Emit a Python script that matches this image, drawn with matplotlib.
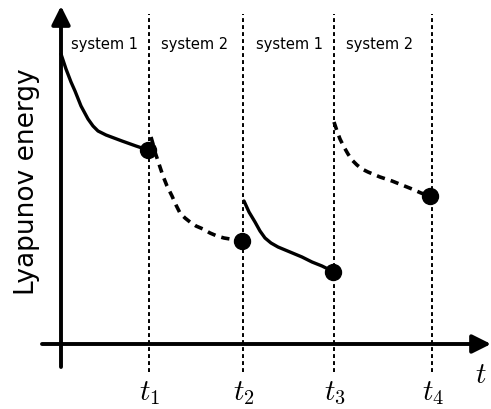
import matplotlib
matplotlib.use("Agg")
import matplotlib.pyplot as plt

plt.rcParams['mathtext.fontset'] = 'cm'
plt.rcParams['font.family'] = 'DejaVu Sans'

# switching instants
t_switch = [88, 182, 273, 371]
t_labels = [r'$t_1$', r'$t_2$', r'$t_3$', r'$t_4$']
regions = ['system 1', 'system 2', 'system 1', 'system 2']
region_mid = [44, 134, 229, 319]

# energy along each interval (solid = system 1, dashed = system 2)
seg1_t = [0, 5, 10, 14, 20, 27, 32, 37, 45, 53, 61, 75, 87]
seg1_v = [290, 275, 262, 253, 238, 225, 218, 213, 209, 206, 203, 198, 194]
seg2_t = [90, 92, 94, 98, 102, 106, 111, 115, 119, 124, 129, 135, 142,
          149, 156, 163, 169, 175, 181]
seg2_v = [207, 200, 192, 180, 168, 158, 148, 139, 131, 126, 122, 118, 115,
          111, 108, 106, 105, 104, 103]
seg3_t = [183, 188, 194, 199, 204, 210, 217, 229, 241, 251, 261, 267, 272]
seg3_v = [143, 132, 122, 113, 106, 101, 97, 92, 87, 82, 78, 75, 72]
seg4_t = [273, 276, 279, 283, 287, 291, 296, 301, 307, 319, 331, 341,
          351, 360, 369]
seg4_v = [222, 213, 205, 197, 190, 184, 179, 175, 172, 167, 163, 159,
          155, 151, 148]

fig = plt.figure(figsize=(4.91, 4.10), dpi=100)
ax = fig.add_axes([0, 0, 1, 1])
ax.set_xlim(-61, 430)
ax.set_ylim(-65, 345)
ax.axis('off')

# axes with arrow heads
ax.annotate('', xy=(430, 0), xytext=(-19, 0),
            arrowprops=dict(arrowstyle='-|>', lw=2.8, color='black',
                            mutation_scale=28, shrinkA=0, shrinkB=0))
ax.annotate('', xy=(0, 338), xytext=(0, -23),
            arrowprops=dict(arrowstyle='-|>', lw=2.8, color='black',
                            mutation_scale=28, shrinkA=0, shrinkB=0))

for ts, lab in zip(t_switch, t_labels):
    ax.plot([ts, ts], [-28, 330], color='black', lw=1.4,
            linestyle=(0, (2.0, 1.6)))
    ax.text(ts + 1, -48, lab, fontsize=21, ha='center', va='center')

for xm, name in zip(region_mid, regions):
    ax.text(xm, 300, name, fontsize=10.5, ha='center', va='center')

solid = dict(color='black', lw=2.4, solid_capstyle='round',
             solid_joinstyle='round')
dashed = dict(color='black', lw=2.6, dashes=(2.3, 1.7))
ax.plot(seg1_t, seg1_v, **solid)
ax.plot(seg2_t, seg2_v, **dashed)
ax.plot(seg3_t, seg3_v, **solid)
ax.plot(seg4_t, seg4_v, **dashed)

ends_t = [seg1_t[-1], seg2_t[-1], seg3_t[-1], seg4_t[-1]]
ends_v = [seg1_v[-1], seg2_v[-1], seg3_v[-1], seg4_v[-1]]
ax.plot(ends_t, ends_v, 'o', color='black', markersize=11.5)

ax.text(420, -30, r'$t$', fontsize=21, ha='center', va='center')
ax.text(-34, 163, 'Lyapunov energy', fontsize=19, rotation=90,
        ha='center', va='center')

fig.savefig('out.png', dpi=100)
